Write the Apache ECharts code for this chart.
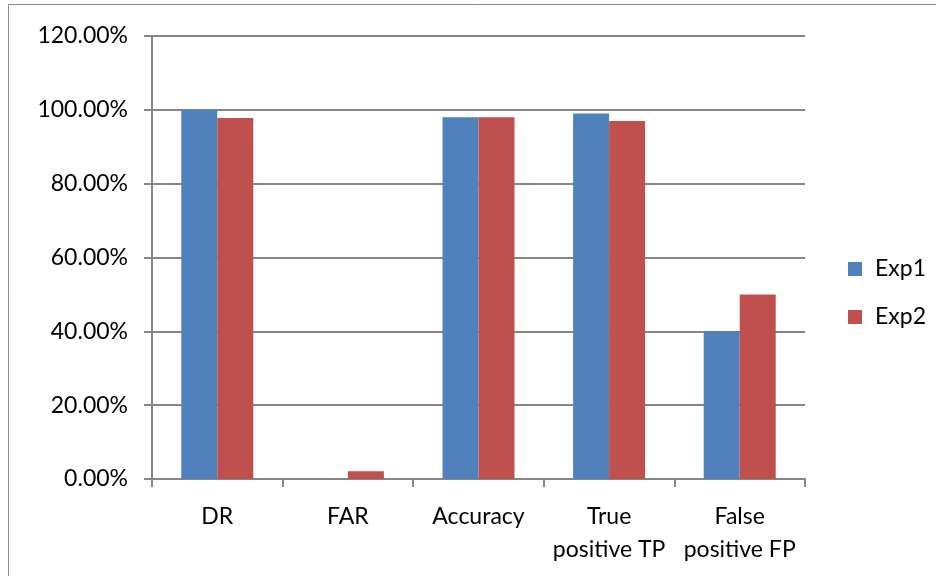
<!DOCTYPE html>
<html><head><meta charset="utf-8">
<script src="https://cdn.jsdelivr.net/npm/echarts@6/dist/echarts.min.js"></script>
<style>html,body{margin:0;padding:0;background:#fff}#c{width:936px;height:576px}</style>
</head><body><div id="c"></div>
<script>
var categories = ['DR', 'FAR', 'Accuracy', 'True\npositive TP', 'False\npositive FP'];
var exp1 = [100, 0, 98, 99, 40];
var exp2 = [97.8, 2.1, 98, 97, 50];
var seriesNames = ['Exp1', 'Exp2'];
var colors = ['#4F81BD', '#C0504D'];
var font = 'Lato, "Open Sans", sans-serif';
var chart = echarts.init(document.getElementById('c'));
chart.setOption({
  animation: false,
  backgroundColor: '#fff',
  graphic: [{type: 'rect', shape: {x: 8.5, y: 4.5, width: 1000, height: 1000}, style: {fill: 'none', stroke: '#8c8c8c', lineWidth: 1}}],
  grid: {left: 152, right: 131, top: 36, bottom: 97},
  legend: {
    orient: 'vertical', left: 843, top: 252, itemGap: 24, itemWidth: 14, itemHeight: 14,
    icon: 'rect', textStyle: {fontFamily: font, fontSize: 23, lineHeight: 24, color: '#000', padding: [0, 0, 0, 8]},
    data: seriesNames
  },
  xAxis: {
    type: 'category', data: categories,
    axisLine: {lineStyle: {color: '#868686', width: 2}},
    axisTick: {show: true, length: 8, lineStyle: {color: '#868686', width: 2}},
    axisLabel: {fontFamily: font, fontSize: 23, color: '#000', margin: 21, lineHeight: 33, interval: 0}
  },
  yAxis: {
    type: 'value', min: 0, max: 120, interval: 20,
    axisLine: {show: true, lineStyle: {color: '#868686', width: 2}},
    axisTick: {show: true, length: 8, lineStyle: {color: '#868686', width: 2}},
    splitLine: {lineStyle: {color: '#868686', width: 2}},
    axisLabel: {fontFamily: font, fontSize: 23, color: '#000', margin: 24,
      formatter: function (v) { return v.toFixed(2) + '%'; }}
  },
  series: [
    {name: seriesNames[0], type: 'bar', data: exp1, barWidth: 36, barGap: '0%', itemStyle: {color: colors[0]}},
    {name: seriesNames[1], type: 'bar', data: exp2, barWidth: 36, barGap: '0%', itemStyle: {color: colors[1]}}
  ]
});
</script></body></html>
